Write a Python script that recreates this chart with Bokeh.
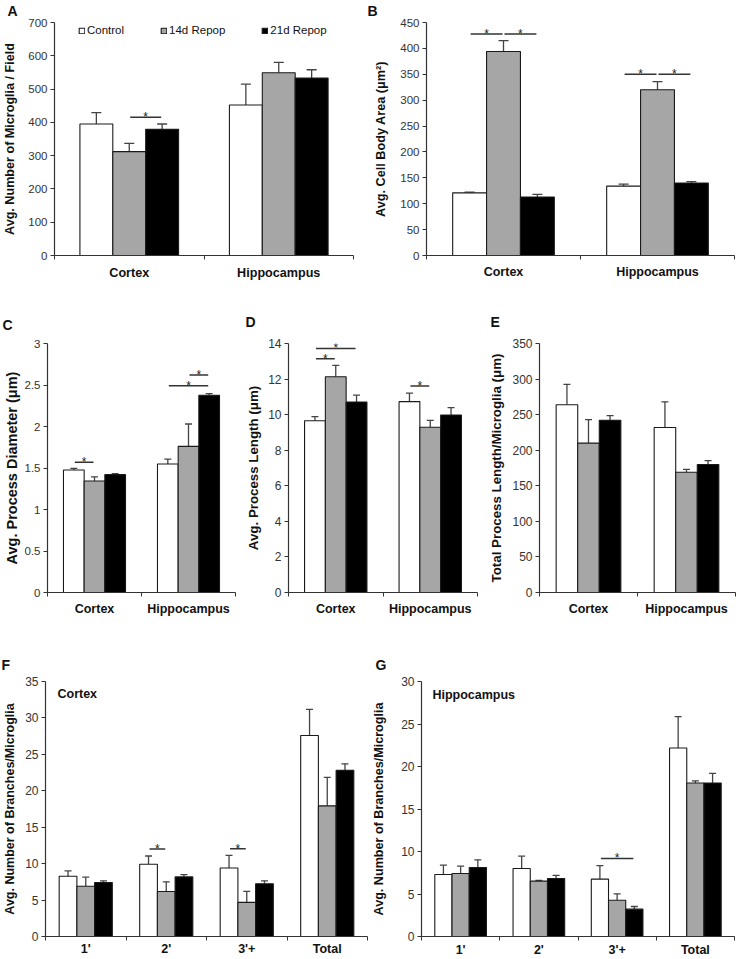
from bokeh.plotting import figure
from bokeh.models import (Range1d, FixedTicker, Label, Legend, LegendItem, Whisker,
                          TeeHead, ColumnDataSource)
from bokeh.layouts import column, row
from bokeh.embed import file_html
from bokeh.resources import INLINE
from bokeh.core.properties import value

FONT = "Liberation Sans"
SERIES = ["Control", "14d Repop", "21d Repop"]
FILLS = ["#ffffff", "#a6a6a6", "#000000"]

# ---------------- data ----------------
region_categories = ["Cortex", "Hippocampus"]
branch_categories = ["1'", "2'", "3'+", "Total"]

# A: microglia per field
A_control = [395, 452]
A_control_err = [34, 63]
A_14d = [312, 549]
A_14d_err = [25, 31]
A_21d = [379, 533]
A_21d_err = [16, 25]
A_yticks = [0, 100, 200, 300, 400, 500, 600, 700]
A_sig = [(0, 1, 2, 415)]

# B: cell body area
B_control = [121, 134]
B_control_err = [1.5, 4]
B_14d = [394, 320]
B_14d_err = [21, 16]
B_21d = [113, 140]
B_21d_err = [5, 2.5]
B_yticks = [0, 50, 100, 150, 200, 250, 300, 350, 400, 450]
B_sig = [(0, 0, 1, 428), (0, 1, 2, 428), (1, 0, 1, 350), (1, 1, 2, 350)]

# C: process diameter
C_control = [1.476, 1.548]
C_control_err = [0.02, 0.06]
C_14d = [1.344, 1.76]
C_14d_err = [0.05, 0.27]
C_21d = [1.42, 2.377]
C_21d_err = [0.012, 0.02]
C_yticks = [0, 0.5, 1, 1.5, 2, 2.5, 3]
C_sig = [(0, 0, 1, 1.57), (1, 0, 2, 2.49), (1, 1, 2, 2.62)]

# D: process length
D_control = [9.66, 10.73]
D_control_err = [0.23, 0.48]
D_14d = [12.13, 9.29]
D_14d_err = [0.64, 0.39]
D_21d = [10.71, 9.98]
D_21d_err = [0.39, 0.42]
D_yticks = [0, 2, 4, 6, 8, 10, 12, 14]
D_sig = [(0, 0, 1, 13.14), (0, 0, 2, 13.72), (1, 0, 1, 11.61)]

# E: total process length
E_control = [264, 232]
E_control_err = [28.5, 36]
E_14d = [210, 169]
E_14d_err = [33, 4]
E_21d = [242, 180]
E_21d_err = [6.6, 5.5]
E_yticks = [0, 50, 100, 150, 200, 250, 300, 350]
E_sig = []

# F: branches, cortex
F_control = [8.27, 9.91, 9.41, 27.58]
F_control_err = [0.73, 1.14, 1.73, 3.6]
F_14d = [6.9, 6.18, 4.68, 17.93]
F_14d_err = [1.24, 1.32, 1.5, 3.92]
F_21d = [7.41, 8.18, 7.23, 22.8]
F_21d_err = [0.23, 0.32, 0.41, 0.9]
F_yticks = [0, 5, 10, 15, 20, 25, 30, 35]
F_sig = [(1, 0, 1, 12.0), (2, 0, 1, 12.05)]

# G: branches, hippocampus
G_control = [7.29, 8.0, 6.75, 22.18]
G_control_err = [1.1, 1.45, 1.6, 3.69]
G_14d = [7.41, 6.51, 4.27, 18.06]
G_14d_err = [0.86, 0.08, 0.75, 0.24]
G_21d = [8.12, 6.82, 3.22, 18.06]
G_21d_err = [0.9, 0.36, 0.31, 1.14]
G_yticks = [0, 5, 10, 15, 20, 25, 30]
G_sig = [(2, 0, 2, 9.18)]

BAR_W = 0.22


def build(letter, cats, series, errs, yticks, sig, ylabel, cfg, inset=None, legend=False):
    n = len(cats)
    ymax = yticks[-1]
    FW, FH = cfg["FW"], cfg["FH"]
    p = figure(width=cfg["L"] + FW + cfg["R"], height=cfg["T"] + FH + cfg["B"],
               min_border_left=cfg["L"], min_border_right=cfg["R"],
               min_border_top=cfg["T"], min_border_bottom=cfg["B"],
               x_range=Range1d(0, n), y_range=Range1d(0, ymax),
               output_backend="svg", toolbar_location=None, title=letter)
    p.outline_line_color = None
    p.xgrid.grid_line_color = None
    p.ygrid.grid_line_color = None
    p.background_fill_color = "white"
    p.border_fill_color = "white"

    t = p.title
    t.align = "left"
    t.vertical_align = "top"
    t.offset = cfg["letter"][0]
    t.standoff = cfg["letter"][1]
    t.text_font = FONT
    t.text_font_style = "bold"
    t.text_font_size = "14px"
    t.text_line_height = 1.0
    t.text_color = "#111111"

    def d(px, py_top):
        return px / FW * n, ymax - py_top / FH * ymax

    renderers = []
    for s in range(3):
        xs = [i + 0.5 + (s - 1) * BAR_W for i in range(n)]
        tops = series[s]
        ups = [tv + e for tv, e in zip(tops, errs[s])]
        src = ColumnDataSource(dict(x=xs, top=tops, upper=ups))
        r = p.vbar(x="x", top="top", bottom=0, width=BAR_W, source=src,
                   fill_color=FILLS[s], line_color="#1a1a1a", line_width=1.1)
        renderers.append(r)
        w = Whisker(base="x", upper="upper", lower="top", source=src, dimension="height",
                    line_color="#444444", line_width=1.3,
                    upper_head=TeeHead(size=cfg["cap"], line_color="#444444", line_width=1.3),
                    lower_head=None)
        p.add_layout(w)

    if sig:
        gap = 1.0 / FW * n
        x0 = [g + 0.5 + (a - 1) * BAR_W + gap for g, a, b, yv in sig]
        x1 = [g + 0.5 + (b - 1) * BAR_W - gap for g, a, b, yv in sig]
        ys = [yv for g, a, b, yv in sig]
        xm = [(u + v) / 2 for u, v in zip(x0, x1)]
        ssrc = ColumnDataSource(dict(x0=x0, x1=x1, y=ys, xm=xm, t=["*"] * len(ys)))
        p.segment(x0="x0", y0="y", x1="x1", y1="y", source=ssrc, line_color="#333333", line_width=1.5)
        p.text(x="xm", y="y", text="t", source=ssrc, text_align="center", text_baseline="alphabetic",
               text_font=value(FONT), text_font_size="12px", text_color="#222222")

    xa = p.xaxis[0]
    xa.ticker = FixedTicker(ticks=[i + 0.5 for i in range(n)], minor_ticks=list(range(n + 1)))
    xa.major_label_overrides = {i + 0.5: c for i, c in enumerate(cats)}
    xa.major_tick_line_color = None
    xa.major_tick_out = 0
    xa.major_tick_in = 0
    xa.minor_tick_out = 4
    xa.minor_tick_in = 0
    xa.minor_tick_line_color = "#333333"
    xa.axis_line_color = "#333333"
    xa.axis_line_width = 1.2
    xa.major_label_text_font = FONT
    xa.major_label_text_font_style = "bold"
    xa.major_label_text_font_size = cfg["cat_fs"]
    xa.major_label_text_color = "#111111"
    xa.major_label_standoff = cfg["xls"]

    ya = p.yaxis[0]
    ya.ticker = FixedTicker(ticks=yticks, minor_ticks=[])
    ya.major_label_overrides = {tk: f"{tk:g}" for tk in yticks}
    ya.major_tick_out = 4
    ya.major_tick_in = 0
    ya.major_tick_line_color = "#333333"
    ya.minor_tick_line_color = None
    ya.axis_line_color = "#333333"
    ya.axis_line_width = 1.2
    ya.major_label_text_font = FONT
    ya.major_label_text_font_size = cfg["tick_fs"]
    ya.major_label_text_color = "#333333"
    ya.major_label_standoff = 3
    ya.axis_label = ylabel
    ya.axis_label_text_font = FONT
    ya.axis_label_text_font_style = "bold"
    ya.axis_label_text_font_size = cfg["lab_fs"]
    ya.axis_label_text_color = "#111111"
    ya.axis_label_standoff = cfg["yls"]

    if inset:
        ix, iy = d(*cfg["inset"])
        p.add_layout(Label(x=ix, y=iy, text=inset, text_font=FONT, text_font_style="bold",
                           text_font_size="12.5px", text_baseline="middle", text_align="left",
                           text_color="#111111"))
    if legend:
        lg = Legend(items=[LegendItem(label=SERIES[s], renderers=[renderers[s]]) for s in range(3)],
                    orientation="horizontal", location=cfg["leg"],
                    glyph_width=7, glyph_height=7, label_standoff=2, spacing=36,
                    padding=0, margin=0, label_height=8,
                    border_line_color=None, background_fill_alpha=0,
                    label_text_font=FONT, label_text_font_size="11.5px",
                    label_text_color="#111111")
        p.add_layout(lg)
    return p


# layout (pixels): L/R/T/B borders, frame width/height; letter = (x offset from frame left, standoff)
cfgA = dict(L=50, FW=303, R=5, T=21, FH=234, B=45, cap=10, cat_fs="12.6px", tick_fs="11.5px",
            lab_fs="12.6px", yls=8, xls=6, letter=(-47, 3), leg=(24, 219))
cfgB = dict(L=68, FW=308, R=2, T=22, FH=233, B=45, cap=10, cat_fs="12.5px", tick_fs="11.5px",
            lab_fs="12.7px", yls=9, xls=5, letter=(-59, 4))
cfgC = dict(L=45, FW=190, R=5, T=40, FH=253, B=27, cap=7, cat_fs="12.5px", tick_fs="11.5px",
            lab_fs="14.5px", yls=2, xls=5, letter=(-45, 18))
cfgD = dict(L=48, FW=189, R=5, T=43, FH=251, B=26, cap=7, cat_fs="12.5px", tick_fs="12px",
            lab_fs="13.3px", yls=4, xls=5, letter=(-43, 24))
cfgE = dict(L=57, FW=196, R=1, T=42, FH=250, B=28, cap=7, cat_fs="12.5px", tick_fs="12px",
            lab_fs="13.3px", yls=5, xls=5, letter=(-49, 23))
cfgF = dict(L=44, FW=323, R=2, T=61, FH=256, B=22, cap=7, cat_fs="12.5px", tick_fs="12px",
            lab_fs="12.5px", yls=5, xls=1, letter=(-44, 14), inset=(12, 13))
cfgG = dict(L=49, FW=316, R=2, T=61, FH=255, B=23, cap=7, cat_fs="12.5px", tick_fs="12px",
            lab_fs="12.6px", yls=12, xls=2, letter=(-46, 14), inset=(11, 13))

pA = build("A", region_categories, [A_control, A_14d, A_21d], [A_control_err, A_14d_err, A_21d_err],
           A_yticks, A_sig, "Avg. Number of Microglia / Field", cfgA, legend=True)
pB = build("B", region_categories, [B_control, B_14d, B_21d], [B_control_err, B_14d_err, B_21d_err],
           B_yticks, B_sig, "Avg. Cell Body Area (\u03bcm\u00b2)", cfgB)
pC = build("C", region_categories, [C_control, C_14d, C_21d], [C_control_err, C_14d_err, C_21d_err],
           C_yticks, C_sig, "Avg. Process Diameter (\u03bcm)", cfgC)
pD = build("D", region_categories, [D_control, D_14d, D_21d], [D_control_err, D_14d_err, D_21d_err],
           D_yticks, D_sig, "Avg. Process Length (\u03bcm)", cfgD)
pE = build("E", region_categories, [E_control, E_14d, E_21d], [E_control_err, E_14d_err, E_21d_err],
           E_yticks, E_sig, "Total Process Length/Microglia (\u03bcm)", cfgE)
pF = build("F", branch_categories, [F_control, F_14d, F_21d], [F_control_err, F_14d_err, F_21d_err],
           F_yticks, F_sig, "Avg. Number of Branches/Microglia", cfgF, inset="Cortex")
pG = build("G", branch_categories, [G_control, G_14d, G_21d], [G_control_err, G_14d_err, G_21d_err],
           G_yticks, G_sig, "Avg. Number of Branches/Microglia", cfgG, inset="Hippocampus")

layout = column(row(pA, pB), row(pC, pD, pE), row(pF, pG))
open("out.html", "w").write(file_html(layout, INLINE))
